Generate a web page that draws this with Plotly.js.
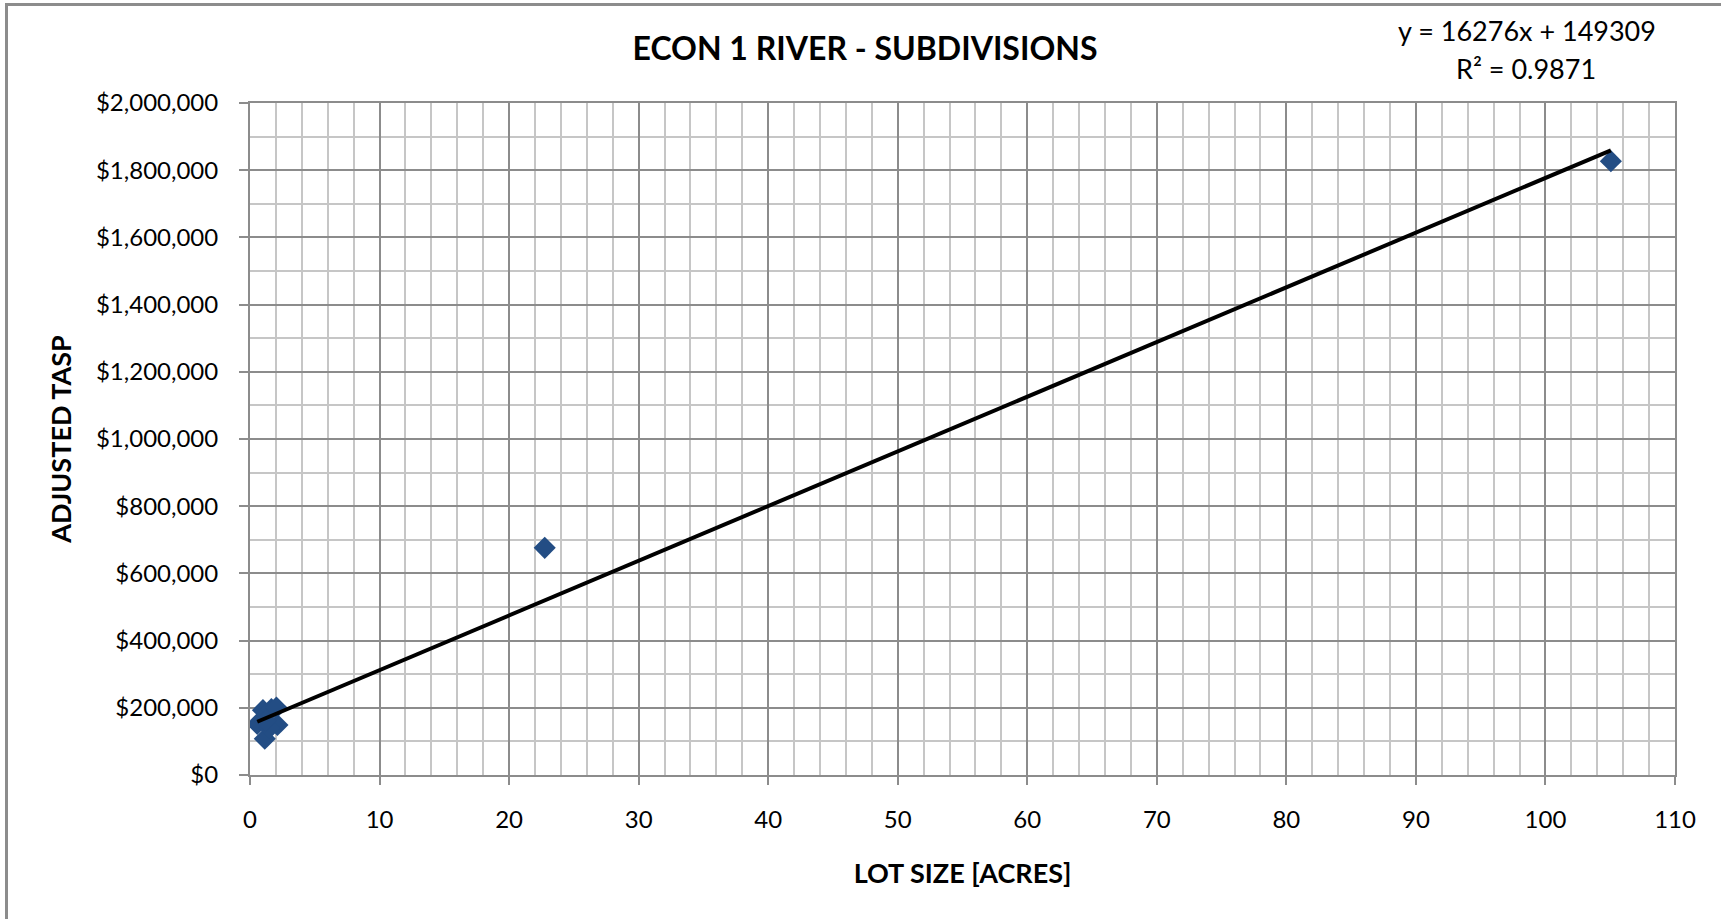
<!DOCTYPE html>
<html>
<head>
<meta charset="utf-8">
<script src="https://cdn.plot.ly/plotly-3.0.1.min.js"></script>
<style>
  html, body { margin: 0; padding: 0; background: #ffffff; }
  #frame { position: absolute; left: 5px; top: 3px; width: 1716px; height: 916px;
           border-left: 3px solid #8c8c8c; border-top: 3px solid #8c8c8c; box-sizing: border-box; }
  #chart { position: absolute; left: 0; top: 0; width: 1721px; height: 919px; }
</style>
</head>
<body>
<div id="frame"></div>
<div id="chart"></div>
<script>
// Data
const lotSizeAcres = [0.56, 1.0, 1.65, 2.04, 2.12, 1.14, 1.5, 1.2, 22.75, 105.05];
const adjustedTasp = [152000, 193000, 196000, 201000, 149000, 108000, 140000, 160000, 676000, 1827000];
// Linear trendline as reported on the chart
const trendSlope = 16276;
const trendIntercept = 149309;
const trendR2 = 0.9871;
const chartTitle = "ECON 1 RIVER - SUBDIVISIONS";
const xTitle = "LOT SIZE [ACRES]";
const yTitle = "ADJUSTED TASP";

const xMin = Math.min(...lotSizeAcres);
const xMax = Math.max(...lotSizeAcres);
const trendX = [xMin, xMax];
const trendY = trendX.map(x => trendSlope * x + trendIntercept);

const FONT = "Lato, 'Open Sans', sans-serif";
const majorGrid = "#8c8c8c";
const minorGrid = "#c6c6c6";

const traces = [
  {
    x: lotSizeAcres, y: adjustedTasp, type: "scatter", mode: "markers",
    marker: { symbol: "diamond", size: 17, color: "#234d84", line: { width: 0 } },
    showlegend: false, hoverinfo: "x+y"
  },
  {
    x: trendX, y: trendY, type: "scatter", mode: "lines",
    line: { color: "#000000", width: 4 },
    showlegend: false, hoverinfo: "skip"
  }
];

const layout = {
  width: 1721, height: 919,
  margin: { l: 250, r: 46, t: 103, b: 144 },
  paper_bgcolor: "rgba(0,0,0,0)",
  plot_bgcolor: "#ffffff",
  font: { family: FONT, color: "#000000", size: 24 },
  title: {
    text: "<b>" + chartTitle + "</b>",
    font: { family: FONT, size: 32, color: "#000000" },
    x: 865 / 1721, xanchor: "center", y: 1 - 49 / 919, yanchor: "middle"
  },
  xaxis: {
    range: [0, 110], dtick: 10, tick0: 0,
    showgrid: true, gridcolor: majorGrid, gridwidth: 2,
    minor: { dtick: 2, showgrid: true, gridcolor: minorGrid, gridwidth: 2, ticks: "" },
    showline: true, linecolor: majorGrid, linewidth: 2, mirror: true,
    ticks: "outside", ticklen: 8, tickcolor: majorGrid, tickwidth: 2,
    ticklabelstandoff: 14,
    tickfont: { family: FONT, size: 24, color: "#000000" },
    zeroline: false,
    title: { text: "<b>" + xTitle + "</b>", font: { family: FONT, size: 27, color: "#000000" }, standoff: 32 }
  },
  yaxis: {
    range: [0, 2000000], dtick: 200000, tick0: 0,
    tickprefix: "$", tickformat: ",d",
    showgrid: true, gridcolor: majorGrid, gridwidth: 2,
    minor: { dtick: 100000, showgrid: true, gridcolor: minorGrid, gridwidth: 2, ticks: "" },
    showline: true, linecolor: majorGrid, linewidth: 2, mirror: true,
    ticks: "outside", ticklen: 9, tickcolor: majorGrid, tickwidth: 2,
    ticklabelstandoff: 16,
    tickfont: { family: FONT, size: 24, color: "#000000" },
    zeroline: false,
    title: { text: "<b>" + yTitle + "</b>", font: { family: FONT, size: 27, color: "#000000" }, standoff: 16 }
  },
  annotations: [
    {
      xref: "paper", yref: "paper",
      x: (1527 - 250) / (1721 - 250 - 46), y: 1 + (103 - 30) / (919 - 103 - 144),
      xanchor: "center", yanchor: "middle", showarrow: false,
      text: "y = " + trendSlope + "x + " + trendIntercept,
      font: { family: FONT, size: 27, color: "#000000" }
    },
    {
      xref: "paper", yref: "paper",
      x: (1526 - 250) / (1721 - 250 - 46), y: 1 + (103 - 68) / (919 - 103 - 144),
      xanchor: "center", yanchor: "middle", showarrow: false,
      text: "R² = " + trendR2,
      font: { family: FONT, size: 27, color: "#000000" }
    }
  ]
};

Plotly.newPlot("chart", traces, layout, { displayModeBar: false, staticPlot: true });
</script>
</body>
</html>
